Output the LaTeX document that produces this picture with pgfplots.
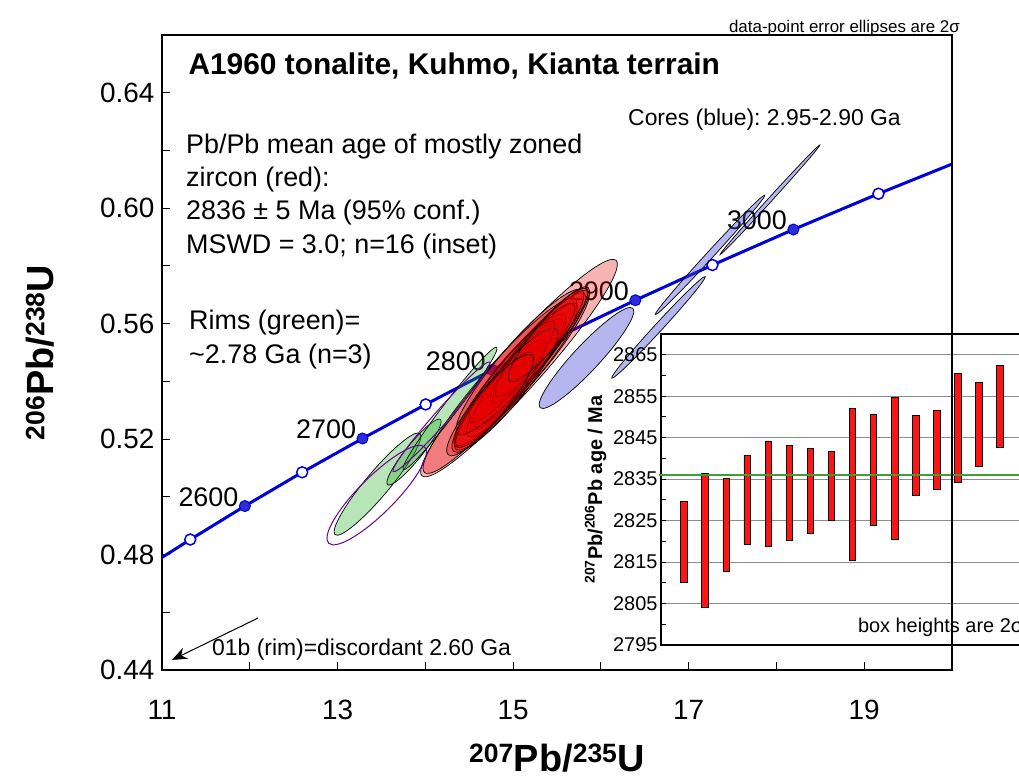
\documentclass[border=0pt]{standalone}
\usepackage{pgfplots}
\pgfplotsset{compat=1.18}
\usepackage{pgfplotstable}
\usepackage{fontspec}
\setmainfont{Liberation Sans}
\usetikzlibrary{shapes.geometric,arrows.meta}
\definecolor{conc}{RGB}{0,0,220}
\definecolor{concfill}{RGB}{45,45,215}
\definecolor{redell}{RGB}{230,0,0}
\definecolor{greenell}{RGB}{20,170,20}
\definecolor{blueell}{RGB}{70,70,215}
\definecolor{purpell}{RGB}{110,0,150}
\definecolor{barred}{RGB}{255,20,20}
\definecolor{meanline}{RGB}{60,160,50}
\newcommand{\fs}[1]{\fontsize{#1}{#1}\selectfont}
\frenchspacing

% concordia curve, 2500-3100 Ma every 50 Ma
\pgfplotstableread{
x y
10.730 0.4738
11.322 0.4852
11.944 0.4968
12.597 0.5085
13.284 0.5202
14.004 0.5320
14.762 0.5440
15.557 0.5560
16.393 0.5681
17.271 0.5803
18.193 0.5926
19.162 0.6050
20.180 0.6175
}\concordia

\pgfplotstableread{
x y lab
11.944 0.4968 2600
13.284 0.5202 2700
14.762 0.5440 2800
16.393 0.5681 2900
18.193 0.5926 3000
}\concfull

\pgfplotstableread{
x y
11.322 0.4852
12.597 0.5085
14.004 0.5320
15.557 0.5560
17.271 0.5803
19.162 0.6050
}\concopen

% ellipses: centre x, y ; full axes w, h (bp) ; angle (deg)
\pgfplotstableread{
x y w h ang
15.067 0.5446 290 44 48
14.850 0.5385 230 40 49
15.078 0.5439 200 36 50
14.964 0.5405 170 34 50
15.192 0.5474 180 34 50
15.021 0.5412 150 30 51
15.135 0.5457 160 30 50
14.851 0.5353 140 30 51
15.306 0.5526 150 30 50
14.987 0.5433 130 28 50
14.794 0.5336 120 28 51
15.249 0.5509 120 26 50
15.078 0.5467 190 38 49
14.907 0.5370 160 34 50
15.397 0.5561 120 26 50
14.737 0.5318 130 30 50
}\redtab

\pgfplotstableread{
x y w h ang
13.455 0.5044 132 24 50
13.871 0.5155 84 16 51
14.281 0.5306 154 14 52.6
}\greentab

\pgfplotstableread{
x y w h ang
13.446 0.5006 136 36 45
14.184 0.5277 146 14 48.6
}\purptab

\pgfplotstableread{
x y w h ang
15.836 0.5481 136 26 47
16.656 0.5587 138 8 47.4
17.243 0.5838 162 7 47.5
17.926 0.6029 148 4 47.7
}\bluetab

% inset: 207Pb/206Pb ages, box bottom and top (2 sigma)
\pgfplotstableread{
i lo hi
1 2810.0 2829.7
2 2804.0 2836.3
3 2812.8 2835.1
4 2819.2 2840.8
5 2818.8 2844.2
6 2820.3 2843.2
7 2821.8 2842.4
8 2825.0 2841.6
9 2815.4 2852.1
10 2823.9 2850.5
11 2820.4 2854.7
12 2831.1 2850.3
13 2832.6 2851.6
14 2834.3 2860.5
15 2838.0 2858.3
16 2842.7 2862.5
}\bars

\pgfplotsset{
  ellplot/.style={only marks, mark=none,
    visualization depends on={\thisrow{w} \as \ellW},
    visualization depends on={\thisrow{h} \as \ellH},
    visualization depends on={\thisrow{ang} \as \ellA},
    nodes near coords={},
    every node near coord/.append style={ellipse, anchor=center, inner sep=0pt, outer sep=0pt,
      minimum width=\ellW bp, minimum height=\ellH bp, rotate=\ellA, line width=0.7bp, #1}},
  insetgeom/.style={at={(661bp,136bp)}, anchor=south west, width=362bp, height=311bp,
    scale only axis, xmin=-0.092, xmax=17.09, ymin=2795, ymax=2870},
}

\begin{document}
\begin{tikzpicture}
\begin{axis}[
  at={(162bp,111bp)}, anchor=south west,
  width=790bp, height=635bp, scale only axis,
  xmin=11, xmax=20, ymin=0.44, ymax=0.66,
  xtick={11,13,15,17,19}, minor xtick={12,14,16,18},
  ytick={0.44,0.48,0.52,0.56,0.60,0.64}, minor ytick={0.46,0.50,0.54,0.58,0.62},
  xtick pos=bottom, ytick pos=left, tick align=inside,
  major tick length=8bp, minor tick length=8bp,
  tick style={black, line width=1bp},
  axis line style={line width=1.5bp},
  /pgf/number format/assume math mode=true,
  yticklabel style={/pgf/number format/fixed, /pgf/number format/fixed zerofill,
    /pgf/number format/precision=2, font=\fs{28}, xshift=-4bp},
  xticklabel style={font=\fs{28}, yshift=-27bp},
  xlabel={\textsuperscript{207}Pb/\textsuperscript{235}U},
  ylabel={\textsuperscript{206}Pb/\textsuperscript{238}U},
  every axis x label/.style={at={(axis description cs:0.5,0)}, anchor=base, yshift=-101bp, font=\bfseries\fs{38}},
  every axis y label/.style={at={(axis description cs:-0.1544,0.5)}, anchor=center, rotate=90, font=\bfseries\fs{38}},
  clip marker paths=true,
]
% concordia
\addplot[conc, line width=3bp] table {\concordia};
\addplot[only marks, mark=*, mark size=5.5bp, mark options={draw=conc, fill=concfill, line width=1bp},
  nodes near coords, point meta=explicit symbolic,
  every node near coord/.append style={anchor=east, font=\fs{27}, inner sep=0pt, xshift=-6bp, yshift=9bp, text=black}]
  table[meta=lab] {\concfull};
\addplot[only marks, mark=*, mark size=5.5bp, mark options={draw=conc, fill=white, line width=1.5bp}] table {\concopen};
% zircon ellipses
\addplot[ellplot={draw=black, fill=redell, fill opacity=0.3}] table {\redtab};
\addplot[ellplot={draw=black, fill=greenell, fill opacity=0.3}] table {\greentab};
\addplot[ellplot={draw=purpell, line width=1bp}] table {\purptab};
\addplot[ellplot={draw=black, fill=blueell, fill opacity=0.4}] table {\bluetab};
% annotations
\node[anchor=base west, font=\bfseries\fs{30}, inner sep=0pt] at (axis cs:11.300,0.6462) {A1960 tonalite, Kuhmo, Kianta terrain};
\node[anchor=base west, font=\fs{27}, inner sep=0pt] at (axis cs:11.273,0.6190) {Pb/Pb mean age of mostly zoned};
\node[anchor=base west, font=\fs{27}, inner sep=0pt] at (axis cs:11.273,0.6075) {zircon (red):};
\node[anchor=base west, font=\fs{27}, inner sep=0pt] at (axis cs:11.273,0.5960) {2836 ± 5 Ma (95\% conf.)};
\node[anchor=base west, font=\fs{27}, inner sep=0pt] at (axis cs:11.273,0.5844) {MSWD = 3.0; n=16 (inset)};
\node[anchor=base west, font=\fs{27}, inner sep=0pt] at (axis cs:11.308,0.5578) {Rims (green)=};
\node[anchor=base west, font=\fs{27}, inner sep=0pt] at (axis cs:11.308,0.5463) {\textasciitilde2.78 Ga (n=3)};
\node[anchor=base west, font=\fs{23}, inner sep=0pt] at (axis cs:16.309,0.6288) {Cores (blue): 2.95-2.90 Ga};
\node[anchor=base west, font=\fs{23}, inner sep=0pt] at (axis cs:11.570,0.4449) {01b (rim)=discordant 2.60 Ga};
\draw[-{Stealth[length=15bp,width=12bp]}, line width=1bp] (axis cs:12.094,0.4580) -- (axis cs:11.114,0.4435);
\end{axis}

% inset: frame, grid, ticks
\begin{axis}[insetgeom,
  axis background/.style={fill=white},
  axis line style={line width=1.5bp},
  xtick=\empty,
  ytick={2795,2805,...,2865}, minor ytick={2800,2810,...,2870},
  ytick pos=left, tick align=inside, major tick length=5bp, minor tick length=5bp,
  tick style={black, line width=1bp},
  ymajorgrids, major grid style={line width=1bp, color=black!45},
  /pgf/number format/assume math mode=true,
  /pgf/number format/1000 sep={},
  yticklabel style={font=\fs{20}},
  ylabel={\textsuperscript{207}Pb/\textsuperscript{206}Pb age / Ma},
  ylabel style={font=\bfseries\fs{20}},
]
\node[anchor=base west, font=\fs{20}, inner sep=0pt] at (axis cs:9.25,2798.1) {box heights are 2σ};
\end{axis}
% inset: bars
\begin{axis}[insetgeom, hide axis, ybar stacked, bar width=6.5bp]
\addplot[draw=none, fill=none] table[x=i, y=lo] {\bars};
\addplot[fill=barred, draw=black, line width=0.8bp] table[x=i, y expr=\thisrow{hi}-\thisrow{lo}] {\bars};
\end{axis}
% inset: weighted mean
\begin{axis}[insetgeom, hide axis, clip=false]
\addplot[meanline, line width=2.5bp] coordinates {(-0.2,2836) (17.2,2836)};
\end{axis}

\draw[line width=1.5bp] (952bp,111bp) -- (952bp,746bp);
\node[anchor=base east, font=\fs{17}, inner sep=0pt] at (960bp,748bp) {data-point error ellipses are 2σ};
\pgfresetboundingbox
\useasboundingbox (0bp,0bp) rectangle (1019bp,781bp);
\end{tikzpicture}
\end{document}
